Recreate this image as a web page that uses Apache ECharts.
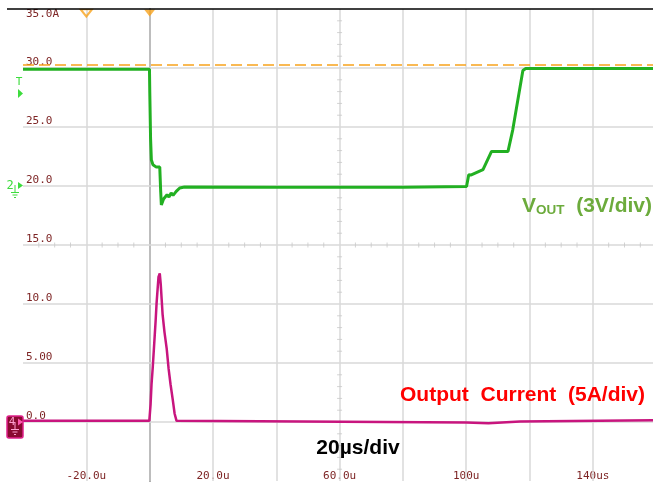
<!DOCTYPE html>
<html><head><meta charset="utf-8">
<script src="https://cdn.jsdelivr.net/npm/echarts/dist/echarts.min.js"></script>
<style>html,body{margin:0;padding:0;background:#fff}#c{width:664px;height:487px}</style>
</head><body><div id="c"></div>
<script>
// ---- data read from the scope capture ----
const gridTimes = [-20, 0, 20, 40, 60, 80, 100, 120, 140];
const gridLevels = [0, 5, 10, 15, 20, 25, 30];
const xLabelValues = [-20, 20, 60, 100, 140];
const xLabelTexts = ['-20.0u', '20.0u', '60.0u', '100u', '140us'];
const yLabelValues = [0, 5, 10, 15, 20, 25, 30];
const yLabelTexts = ['0.0', '5.00', '10.0', '15.0', '20.0', '25.0', '30.0'];
const topLabel = '35.0A';

// VOUT trace (grid units)
const voutTime = [-40, -0.05, 0.05, 0.3, 0.55, 1.05, 2.1, 3.2, 3.5, 3.7, 4.4, 5.5, 6.1, 6.8, 7.4, 8.4, 9.5, 11, 40, 80, 100.1, 100.8, 101.6, 105.3, 108.0, 113.2, 114.7, 117.9, 118.8, 140, 159];
const voutVal  = [29.9, 29.9, 27.9, 24.0, 22.2, 21.8, 21.6, 21.6, 19.5, 18.4, 18.9, 19.26, 19.07, 19.41, 19.2, 19.54, 19.83, 19.92, 19.9, 19.9, 19.95, 20.95, 20.94, 21.38, 22.93, 22.93, 24.76, 29.78, 29.95, 29.95, 29.95];

// Output current trace
const curTime = [-40, -0.1, 0.3, 0.6, 1.0, 1.6, 1.9, 2.2, 2.5, 2.8, 3.2, 3.5, 3.8, 4.1, 4.7, 5.4, 6.0, 6.6, 7.3, 7.9, 8.5, 9.0, 100, 100.5, 107, 107.5, 117, 117.5, 159];
const curVal  = [0.1, 0.1, 1.5, 3.2, 4.7, 7.3, 8.6, 10.1, 11.2, 12.3, 12.6, 11.7, 10.4, 9.1, 7.6, 6.2, 4.5, 3.2, 1.9, 0.7, 0.1, -0.05, -0.05, -0.1, -0.1, 0.05, 0.05, 0.15, 0.15];

const refLevel = 30.25;
const cursorTimes = [-20, 0];

// graticule minor ticks on centre lines
const minorTimes = [-35, -30, -25, -15, -10, -5, 5, 10, 15, 25, 30, 35, 45, 50, 55, 65, 70, 75, 85, 90, 95, 105, 110, 115, 125, 130, 135, 145, 150, 155];
const minorLevels = [-4, -3, -2, -1, 1, 2, 3, 4, 6, 7, 8, 9, 11, 12, 13, 14, 16, 17, 18, 19, 21, 22, 23, 24, 26, 27, 28, 29, 31, 32, 33, 34];
const centreTime = 60, centreLevel = 15;

const chart = echarts.init(document.getElementById('c'), null, {renderer: 'canvas'});
const labColor = '#7d2424';
const mono = 'DejaVu Sans Mono';
const green = '#22b022';
const lime = '#3ddc3d';

function lookup(vals, texts, v) {
  const i = vals.indexOf(Math.round(v * 1000) / 1000);
  return i >= 0 ? texts[i] : '';
}

const option = {
  animation: false,
  backgroundColor: '#fff',
  grid: {left: 23, right: 11, top: 9, bottom: 6, containLabel: false, outerBoundsMode: 'none'},
  xAxis: {
    type: 'value', min: -40, max: 159, interval: 20,
    axisLine: {show: false}, axisTick: {show: false}, splitLine: {show: false},
    axisLabel: {inside: true, margin: -1, color: labColor, fontFamily: mono, fontSize: 11,
      formatter: v => lookup(xLabelValues, xLabelTexts, v)}
  },
  yAxis: [{
    type: 'value', min: -5, max: 35, interval: 5,
    axisLine: {show: true, lineStyle: {color: '#3a3a3a', width: 1.5}},
    axisTick: {show: false}, splitLine: {show: false},
    axisLabel: {inside: true, margin: 3, verticalAlign: 'bottom', color: labColor, fontFamily: mono, fontSize: 11,
      formatter: v => lookup(yLabelValues, yLabelTexts, v)}
  }, {
    type: 'value', min: -5, max: 35, interval: 5, position: 'left',
    axisLine: {show: false}, axisTick: {show: false}, splitLine: {show: false},
    axisLabel: {inside: true, margin: 3, verticalAlign: 'top', color: labColor, fontFamily: mono, fontSize: 11,
      formatter: v => (Math.abs(v - 35) < 1e-6 ? topLabel : '')}
  }],
  series: [
    {
      type: 'scatter', z: 1, silent: true, clip: false,
      symbol: 'rect', symbolSize: [1, 5],
      itemStyle: {color: '#c8c8c8'},
      data: minorTimes.map(t => [t, centreLevel]),
      markLine: {
        z: 1, silent: true, symbol: ['none', 'none'], label: {show: false},
        lineStyle: {color: '#d8d8d8', width: 1.5, type: 'solid'},
        emphasis: {disabled: true},
        data: gridTimes.map(t => ({xAxis: t})).concat(gridLevels.map(l => ({yAxis: l})))
      }
    },
    {
      type: 'scatter', z: 1, silent: true, clip: false,
      symbol: 'rect', symbolSize: [5, 1],
      itemStyle: {color: '#c8c8c8'},
      data: minorLevels.map(l => [centreTime, l])
    },
    {
      type: 'line', z: 3, silent: true, showSymbol: false,
      lineStyle: {color: '#c8157e', width: 2.5},
      data: curTime.map((t, i) => [t, curVal[i]])
    },
    {
      type: 'line', z: 4, silent: true, showSymbol: false,
      lineStyle: {color: green, width: 3},
      data: voutTime.map((t, i) => [t, voutVal[i]])
    },
    {
      type: 'scatter', z: 6, silent: true, clip: false,
      symbol: 'triangle', symbolRotate: 180, symbolSize: [11, 7], symbolOffset: [0, 4],
      data: [
        {value: [cursorTimes[0], 35], itemStyle: {color: 'rgba(255,255,255,0)', borderColor: '#f7a21b', borderWidth: 2}},
        {value: [cursorTimes[1], 35], itemStyle: {color: '#f7a21b'}}
      ],
      markLine: {
        z: 5, silent: true, symbol: ['none', 'none'], label: {show: false},
        lineStyle: {color: '#f7a21b', width: 1.5, type: [11, 5]},
        emphasis: {disabled: true},
        data: [{yAxis: refLevel}]
      }
    }
  ],
  graphic: [
    {type: 'line', z: 10, shape: {x1: 7, y1: 9, x2: 653, y2: 9}, style: {stroke: '#000', lineWidth: 1.5}},
    // channel / trigger markers
    {type: 'text', z: 10, style: {text: 'T', x: 19, y: 82, fill: lime, font: '11px "DejaVu Sans Mono"', align: 'center', verticalAlign: 'middle'}},
    {type: 'polygon', z: 10, shape: {points: [[18, 89], [23, 93.5], [18, 98]]}, style: {fill: lime}},
    {type: 'text', z: 10, style: {text: '2', x: 10, y: 186, fill: lime, font: '12px "DejaVu Sans Mono"', align: 'center', verticalAlign: 'middle'}},
    {type: 'polygon', z: 10, shape: {points: [[18, 182], [23, 185.5], [18, 189]]}, style: {fill: lime}},
    {type: 'line', z: 10, shape: {x1: 15, y1: 185, x2: 15, y2: 192}, style: {stroke: lime, lineWidth: 1}},
    {type: 'line', z: 10, shape: {x1: 11, y1: 192.5, x2: 19, y2: 192.5}, style: {stroke: lime, lineWidth: 1}},
    {type: 'line', z: 10, shape: {x1: 12.5, y1: 195, x2: 17.5, y2: 195}, style: {stroke: lime, lineWidth: 1}},
    {type: 'line', z: 10, shape: {x1: 14, y1: 197.5, x2: 16, y2: 197.5}, style: {stroke: lime, lineWidth: 1}},
    {type: 'rect', z: 10, shape: {x: 7, y: 416, width: 16, height: 22, r: 2}, style: {fill: '#8a0a30', stroke: '#e0208a', lineWidth: 1.5}},
    {type: 'text', z: 11, style: {text: '4', x: 12, y: 422, fill: '#ffa0d0', font: '11px "DejaVu Sans Mono"', align: 'center', verticalAlign: 'middle'}},
    {type: 'polygon', z: 11, shape: {points: [[18, 418.5], [23, 422], [18, 425.5]]}, style: {fill: '#ff58b0'}},
    {type: 'line', z: 11, shape: {x1: 15, y1: 422, x2: 15, y2: 429}, style: {stroke: '#ffa0d0', lineWidth: 1}},
    {type: 'line', z: 11, shape: {x1: 11, y1: 429.5, x2: 19, y2: 429.5}, style: {stroke: '#ffa0d0', lineWidth: 1}},
    {type: 'line', z: 11, shape: {x1: 12.5, y1: 432, x2: 17.5, y2: 432}, style: {stroke: '#ffa0d0', lineWidth: 1}},
    {type: 'line', z: 11, shape: {x1: 14, y1: 434.5, x2: 16, y2: 434.5}, style: {stroke: '#ffa0d0', lineWidth: 1}},
    // annotations
    {type: 'text', z: 12, style: {
      text: '{v|V}{s|OUT}{n|  (3V/div)}', x: 522, y: 217, verticalAlign: 'bottom',
      rich: {
        v: {fontFamily: 'Liberation Sans', fontWeight: 'bold', fontSize: 21, fill: '#6cab3c', color: '#6cab3c', verticalAlign: 'bottom', lineHeight: 22},
        s: {fontFamily: 'Liberation Sans', fontWeight: 'bold', fontSize: 13.5, fill: '#6cab3c', color: '#6cab3c', verticalAlign: 'bottom', lineHeight: 22},
        n: {fontFamily: 'Liberation Sans', fontWeight: 'bold', fontSize: 21, fill: '#6cab3c', color: '#6cab3c', verticalAlign: 'bottom', lineHeight: 22}
      }}},
    {type: 'text', z: 12, style: {text: 'Output  Current  (5A/div)', x: 400, y: 395, fill: '#ff0000',
      font: 'bold 21px "Liberation Sans"', align: 'left', verticalAlign: 'middle'}},
    {type: 'text', z: 12, style: {text: '20µs/div', x: 358, y: 448, fill: '#000',
      font: 'bold 21px "Liberation Sans"', align: 'center', verticalAlign: 'middle'}}
  ]
};
chart.setOption(option);
</script></body></html>
